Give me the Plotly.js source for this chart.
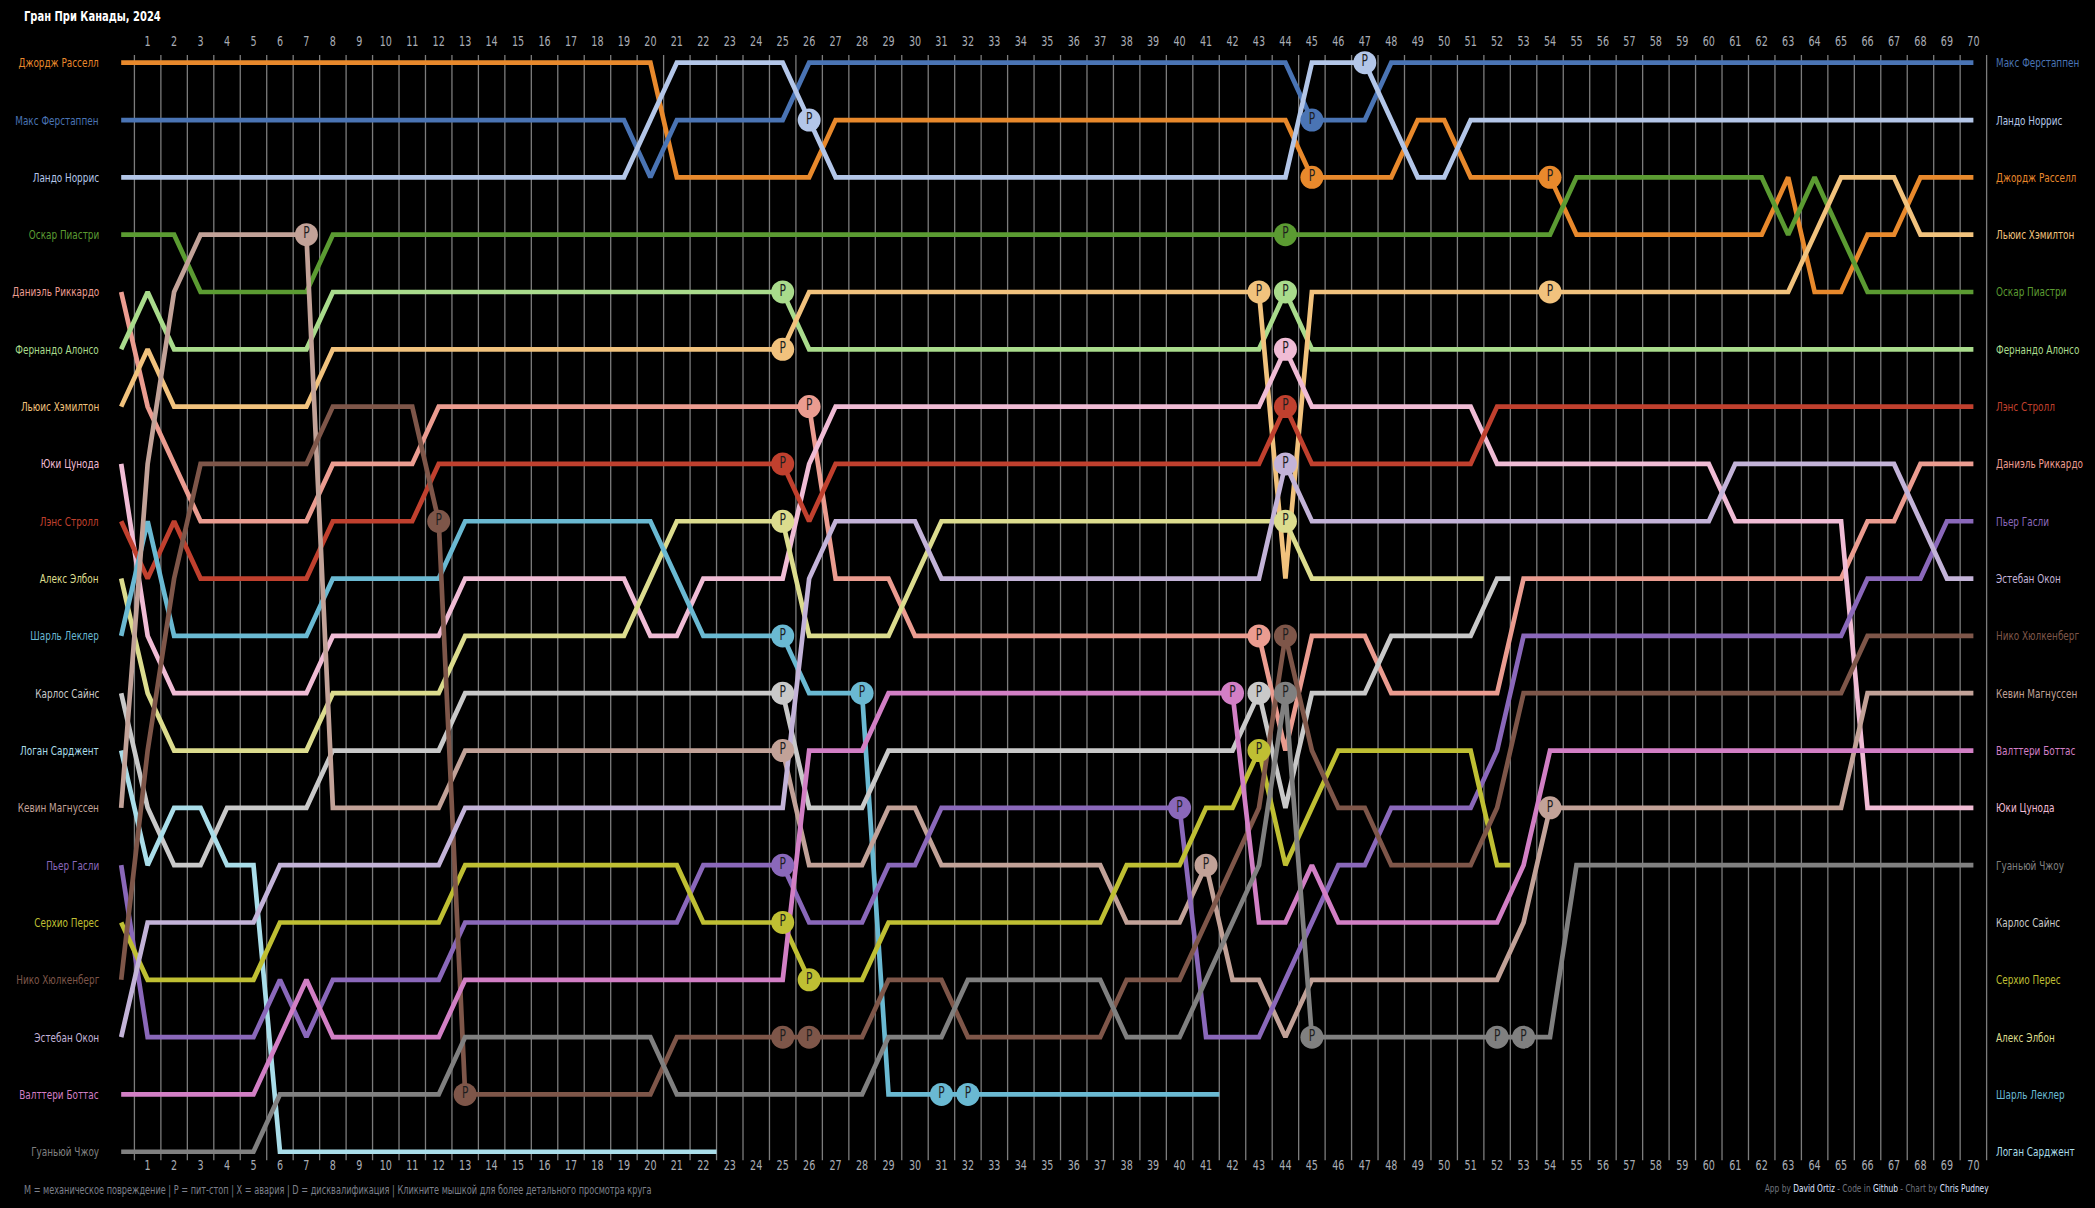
<!DOCTYPE html>
<html><head><meta charset="utf-8">
<script src="https://cdn.plot.ly/plotly-3.0.1.min.js"></script>
<style>html,body{margin:0;padding:0;background:#000;overflow:hidden;}</style>
</head><body><div id="chart" style="width:2095px;height:1208px;"></div>
<script>
const FONT = 'Liberation Sans Narrow, DejaVu Sans Condensed, Arial Narrow, sans-serif';
const SQUEEZE = 0.79; // horizontal condensing of the text, the original uses a narrow face
const totalLaps = 70;
const lapLabels = ['1','2','3','4','5','6','7','8','9','10','11','12','13','14','15','16','17','18','19','20','21','22','23','24','25','26','27','28','29','30','31','32','33','34','35','36','37','38','39','40','41','42','43','44','45','46','47','48','49','50','51','52','53','54','55','56','57','58','59','60','61','62','63','64','65','66','67','68','69','70'];

const drivers = ['Джордж Расселл','Макс Ферстаппен','Ландо Норрис','Оскар Пиастри','Даниэль Риккардо','Фернандо Алонсо','Льюис Хэмилтон','Юки Цунода','Лэнс Стролл','Алекс Элбон','Шарль Леклер','Карлос Сайнс','Логан Сарджент','Кевин Магнуссен','Пьер Гасли','Серхио Перес','Нико Хюлкенберг','Эстебан Окон','Валттери Боттас','Гуаньюй Чжоу'];
const colors = ['#e8892c','#4a74b4','#b3c6e8','#5b9b32','#eb9c90','#a9db8c','#f1c27d','#f0bcd5','#c0402e','#dcdc8e','#6ab9d2','#c9c9c9','#a9dde9','#c2a298','#8a68ba','#bfbf33','#7e5649','#c3b3d8','#d27fc5','#808080'];

// positions, lap 0 .. last lap
const posRUS = [1,1,1,1,1,1,1,1,1,1, 1,1,1,1,1,1,1,1,1,1, 1,3,3,3,3,3,3,2,2,2, 2,2,2,2,2,2,2,2,2,2, 2,2,2,2,2,3,3,3,3,2, 2,3,3,3,3,4,4,4,4,4, 4,4,4,3,5,5,4,4,3,3, 3];
const posVER = [2,2,2,2,2,2,2,2,2,2, 2,2,2,2,2,2,2,2,2,2, 3,2,2,2,2,2,1,1,1,1, 1,1,1,1,1,1,1,1,1,1, 1,1,1,1,1,2,2,2,1,1, 1,1,1,1,1,1,1,1,1,1, 1,1,1,1,1,1,1,1,1,1, 1];
const posNOR = [3,3,3,3,3,3,3,3,3,3, 3,3,3,3,3,3,3,3,3,3, 2,1,1,1,1,1,2,3,3,3, 3,3,3,3,3,3,3,3,3,3, 3,3,3,3,3,1,1,1,2,3, 3,2,2,2,2,2,2,2,2,2, 2,2,2,2,2,2,2,2,2,2, 2];
const posPIA = [4,4,4,5,5,5,5,5,4,4, 4,4,4,4,4,4,4,4,4,4, 4,4,4,4,4,4,4,4,4,4, 4,4,4,4,4,4,4,4,4,4, 4,4,4,4,4,4,4,4,4,4, 4,4,4,4,4,3,3,3,3,3, 3,3,3,4,3,4,5,5,5,5, 5];
const posRIC = [5,7,8,9,9,9,9,9,8,8, 8,8,7,7,7,7,7,7,7,7, 7,7,7,7,7,7,7,10,10,10, 11,11,11,11,11,11,11,11,11,11, 11,11,11,11,13,11,11,11,12,12, 12,12,12,10,10,10,10,10,10,10, 10,10,10,10,10,10,9,9,8,8, 8];
const posALO = [6,5,6,6,6,6,6,6,5,5, 5,5,5,5,5,5,5,5,5,5, 5,5,5,5,5,5,6,6,6,6, 6,6,6,6,6,6,6,6,6,6, 6,6,6,6,5,6,6,6,6,6, 6,6,6,6,6,6,6,6,6,6, 6,6,6,6,6,6,6,6,6,6, 6];
const posHAM = [7,6,7,7,7,7,7,7,6,6, 6,6,6,6,6,6,6,6,6,6, 6,6,6,6,6,6,5,5,5,5, 5,5,5,5,5,5,5,5,5,5, 5,5,5,5,10,5,5,5,5,5, 5,5,5,5,5,5,5,5,5,5, 5,5,5,5,4,3,3,3,4,4, 4];
const posTSU = [8,11,12,12,12,12,12,12,11,11, 11,11,11,10,10,10,10,10,10,10, 11,11,10,10,10,10,8,7,7,7, 7,7,7,7,7,7,7,7,7,7, 7,7,7,7,6,7,7,7,7,7, 7,7,8,8,8,8,8,8,8,8, 8,9,9,9,9,9,14,14,14,14, 14];
const posSTR = [9,10,9,10,10,10,10,10,9,9, 9,9,8,8,8,8,8,8,8,8, 8,8,8,8,8,8,9,8,8,8, 8,8,8,8,8,8,8,8,8,8, 8,8,8,8,7,8,8,8,8,8, 8,8,7,7,7,7,7,7,7,7, 7,7,7,7,7,7,7,7,7,7, 7];
const posALB = [10,12,13,13,13,13,13,13,12,12, 12,12,12,11,11,11,11,11,11,11, 10,9,9,9,9,9,11,11,11,11, 10,9,9,9,9,9,9,9,9,9, 9,9,9,9,9,10,10,10,10,10, 10,10];
const posLEC = [11,9,11,11,11,11,11,11,10,10, 10,10,10,9,9,9,9,9,9,9, 9,10,11,11,11,11,12,12,12,19, 19,19,19,19,19,19,19,19,19,19, 19,19];
const posSAI = [12,14,15,15,14,14,14,14,13,13, 13,13,13,12,12,12,12,12,12,12, 12,12,12,12,12,12,14,14,14,13, 13,13,13,13,13,13,13,13,13,13, 13,13,13,12,14,12,12,12,11,11, 11,11,10];
const posSAR = [13,15,14,14,15,15,20,20,20,20, 20,20,20,20,20,20,20,20,20,20, 20,20,20];
const posMAG = [14,8,5,4,4,4,4,4,14,14, 14,14,14,13,13,13,13,13,13,13, 13,13,13,13,13,13,15,15,15,14, 14,15,15,15,15,15,15,15,16,16, 16,15,17,17,18,17,17,17,17,17, 17,17,17,16,14,14,14,14,14,14, 14,14,14,14,14,14,12,12,12,12, 12];
const posGAS = [15,18,18,18,18,18,17,18,17,17, 17,17,17,16,16,16,16,16,16,16, 16,16,15,15,15,15,16,16,16,15, 15,14,14,14,14,14,14,14,14,14, 14,18,18,18,17,16,15,15,14,14, 14,14,13,11,11,11,11,11,11,11, 11,11,11,11,11,11,10,10,10,9, 9];
const posPER = [16,17,17,17,17,17,16,16,16,16, 16,16,16,15,15,15,15,15,15,15, 15,15,16,16,16,16,17,17,17,16, 16,16,16,16,16,16,16,16,15,15, 15,14,14,13,15,14,13,13,13,13, 13,13,15];
const posHUL = [17,13,10,8,8,8,8,8,7,7, 7,7,9,19,19,19,19,19,19,19, 19,18,18,18,18,18,18,18,18,17, 17,17,18,18,18,18,18,18,17,17, 17,16,15,14,11,13,14,14,15,15, 15,15,14,12,12,12,12,12,12,12, 12,12,12,12,12,12,11,11,11,11, 11];
const posOCO = [18,16,16,16,16,16,15,15,15,15, 15,15,15,14,14,14,14,14,14,14, 14,14,14,14,14,14,10,9,9,9, 9,10,10,10,10,10,10,10,10,10, 10,10,10,10,8,9,9,9,9,9, 9,9,9,9,9,9,9,9,9,9, 9,8,8,8,8,8,8,8,9,10, 10];
const posBOT = [19,19,19,19,19,19,18,17,18,18, 18,18,18,17,17,17,17,17,17,17, 17,17,17,17,17,17,13,13,13,12, 12,12,12,12,12,12,12,12,12,12, 12,12,12,16,16,15,16,16,16,16, 16,16,16,15,13,13,13,13,13,13, 13,13,13,13,13,13,13,13,13,13, 13];
const posZHO = [20,20,20,20,20,20,19,19,19,19, 19,19,19,18,18,18,18,18,18,18, 18,19,19,19,19,19,19,19,19,18, 18,18,17,17,17,17,17,17,18,18, 18,17,16,15,12,18,18,18,18,18, 18,18,18,18,18,15,15,15,15,15, 15,15,15,15,15,15,15,15,15,15, 15];

// pit-stop laps
const pitRUS = [45,54];
const pitVER = [45];
const pitNOR = [26,47];
const pitPIA = [44];
const pitRIC = [26,43];
const pitALO = [25,44];
const pitHAM = [25,43,54];
const pitTSU = [44];
const pitSTR = [25,44];
const pitALB = [25,44];
const pitLEC = [25,28,31,32];
const pitSAI = [25,43];
const pitSAR = [];
const pitMAG = [7,25,41,54];
const pitGAS = [25,40];
const pitPER = [25,26,43];
const pitHUL = [12,13,25,26,44];
const pitOCO = [44];
const pitBOT = [42];
const pitZHO = [44,45,52,53];

const finishOrder = ['Макс Ферстаппен','Ландо Норрис','Джордж Расселл','Льюис Хэмилтон','Оскар Пиастри','Фернандо Алонсо','Лэнс Стролл','Даниэль Риккардо','Пьер Гасли','Эстебан Окон','Нико Хюлкенберг','Кевин Магнуссен','Валттери Боттас','Юки Цунода','Гуаньюй Чжоу','Карлос Сайнс','Серхио Перес','Алекс Элбон','Шарль Леклер','Логан Сарджент'];

const allPos = [posRUS,posVER,posNOR,posPIA,posRIC,posALO,posHAM,posTSU,posSTR,posALB,posLEC,posSAI,posSAR,posMAG,posGAS,posPER,posHUL,posOCO,posBOT,posZHO];
const allPits = [pitRUS,pitVER,pitNOR,pitPIA,pitRIC,pitALO,pitHAM,pitTSU,pitSTR,pitALB,pitLEC,pitSAI,pitSAR,pitMAG,pitGAS,pitPER,pitHUL,pitOCO,pitBOT,pitZHO];

const traces = [];
drivers.forEach((name, i) => {
  const pos = allPos[i];
  const x = pos.map((_, lap) => lap);
  const y = pos.slice();
  const last = pos.length - 1;
  if (last < totalLaps) { x.push(last + 0.5); y.push(pos[last]); }
  traces.push({type:'scatter', mode:'lines', x:x, y:y, name:name,
    line:{color:colors[i], width:4.7}, hoverinfo:'skip', cliponaxis:false});
});
drivers.forEach((name, i) => {
  const pits = allPits[i];
  if (!pits.length) return;
  traces.push({type:'scatter', mode:'markers+text', x:pits, y:pits.map(l => allPos[i][l]),
    text:pits.map(() => 'P'), textposition:'middle center',
    marker:{size:23, color:colors[i], line:{width:0}},
    textfont:{color:'#1e1e1e', size:15, family:FONT}, hoverinfo:'skip', cliponaxis:false});
});
const lapNums = lapLabels.map(Number);
traces.push({type:'scatter', mode:'text', x:lapNums, y:lapNums.map(() => 0.656), text:lapLabels,
  textfont:{color:'#a9adb5', size:13.5, family:FONT}, hoverinfo:'skip', cliponaxis:false});
traces.push({type:'scatter', mode:'text', x:lapNums, y:lapNums.map(() => 20.266), text:lapLabels,
  textfont:{color:'#a9adb5', size:13.5, family:FONT}, hoverinfo:'skip', cliponaxis:false});

const shapes = [];
for (let k = 0; k <= totalLaps; k++) {
  shapes.push({type:'line', layer:'below', xref:'x', yref:'y', x0:k+0.5, x1:k+0.5, y0:0.866, y1:20.146,
    line:{color:'#7c7c7c', width:1.3}});
}

const annotations = [];
drivers.forEach((name, i) => {
  annotations.push({xref:'x', yref:'y', x:-0.76, y:allPos[i][0], text:name, showarrow:false,
    xanchor:'right', align:'right', yanchor:'middle', font:{color:colors[i], size:12.5, family:FONT}});
});
finishOrder.forEach((name, r) => {
  const i = drivers.indexOf(name);
  annotations.push({xref:'x', yref:'y', x:70.78, y:r+1, text:name, showarrow:false,
    xanchor:'left', align:'left', yanchor:'middle', font:{color:colors[i], size:12.5, family:FONT}});
});
annotations.push({xref:'paper', yref:'paper', x:0.0105, y:0.987, text:'<b>Гран При Канады, 2024</b>',
  showarrow:false, xanchor:'left', align:'left', yanchor:'middle', font:{color:'#ffffff', size:14, family:FONT}});
annotations.push({xref:'paper', yref:'paper', x:0.0105, y:0.0149,
  text:'M = механическое повреждение | P = пит-стоп | X = авария | D = дисквалификация | Кликните мышкой для более детального просмотра круга',
  showarrow:false, xanchor:'left', align:'left', yanchor:'middle', font:{color:'#7d818c', size:11.5, family:FONT}});
annotations.push({xref:'paper', yref:'paper', x:0.9504, y:0.0166,
  text:'App by <span style="color:#dfe3ff">David Ortiz</span> - Code in <span style="color:#dfe3ff">Github</span> - Chart by <span style="color:#dfe3ff">Chris Pudney</span>',
  showarrow:false, xanchor:'right', align:'right', yanchor:'middle', font:{color:'#6f737c', size:10.5, family:FONT}});

const layout = {
  width:2095, height:1208, autosize:false,
  paper_bgcolor:'#000000', plot_bgcolor:'#000000',
  margin:{l:0, r:0, t:0, b:0, pad:0},
  showlegend:false,
  xaxis:{range:[-4.580, 74.596], visible:false, showgrid:false, zeroline:false, fixedrange:true},
  yaxis:{range:[20.981, -0.094], visible:false, showgrid:false, zeroline:false, fixedrange:true},
  shapes:shapes, annotations:annotations
};
Plotly.newPlot('chart', traces, layout, {staticPlot:true, displayModeBar:false}).then(gd => {
  // condense every text horizontally about its own anchor, to imitate the narrow face of the original
  gd.querySelectorAll('text').forEach(t => {
    if (!t.textContent) return;
    const ax = parseFloat(t.getAttribute('x')) || 0;
    const prev = t.getAttribute('transform') || '';
    t.setAttribute('transform', (prev + ' translate(' + ax + ',0) scale(' + SQUEEZE + ',1) translate(' + (-ax) + ',0)').trim());
  });
});
</script>
</body></html>
